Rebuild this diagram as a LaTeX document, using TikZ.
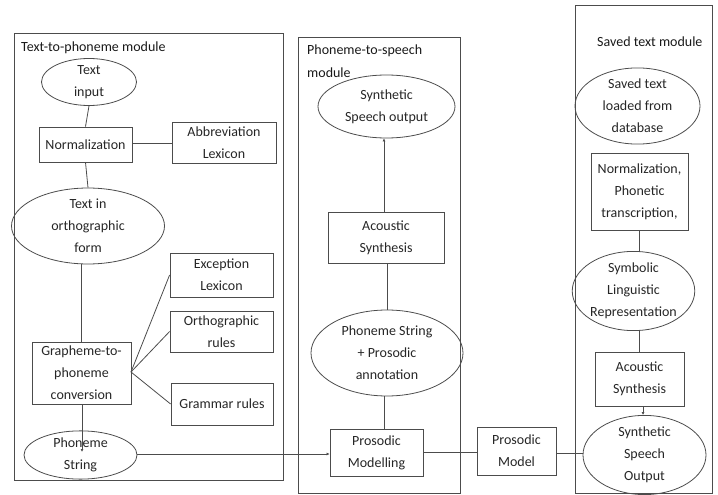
\documentclass[tikz,border=0pt]{standalone}
\usepackage{fontspec}
\setmainfont{Carlito}
\usetikzlibrary{shapes.geometric,arrows.meta}
\tikzset{
  lbl/.style={font=\fontsize{14}{22}\selectfont, text=black!85, align=center},
  boxnode/.style={lbl, draw=black!70, line width=0.8pt, inner sep=0pt},
  ellnode/.style={lbl, ellipse, draw=black!70, line width=0.8pt, inner sep=0pt},
  modbox/.style={draw=black!70, line width=0.8pt},
  conn/.style={draw=black!70, line width=0.8pt},
  arr/.style={conn, -{Latex[length=3pt,width=3pt]}},
  ttl/.style={font=\fontsize{14}{22}\selectfont, text=black!90, align=left, inner sep=0pt, anchor=west}
}
\begin{document}
\begin{tikzpicture}[x=1pt,y=-1pt]
\useasboundingbox (0,0) rectangle (718,495);
% module frames
\draw[modbox] (14,33) rectangle (283,480);
\draw[modbox] (298,37) rectangle (460,493);
\draw[modbox] (575,5) rectangle (712,493);
% titles
\node[ttl] (t1) at (21,48) {Text-to-phoneme module};
\node[ttl, align=left, font=\fontsize{14}{23}\selectfont] (t2) at (307,61) {Phoneme-to-speech\\module};
\node[ttl] (t3) at (597,42) {Saved text module};
% left module
\node[ellnode, minimum width=95, minimum height=40] (ti) at (89,82) {Text\\input};
\node[boxnode, minimum width=93, minimum height=35] (norm) at (85.5,144.5) {Normalization};
\node[boxnode, minimum width=104, minimum height=41] (abbr) at (224,142.5) {Abbreviation\\Lexicon};
\node[ellnode, minimum width=153, minimum height=65] (orth) at (88,226) {Text in\\orthographic\\form};
\node[boxnode, minimum width=103, minimum height=44] (exc) at (221.5,275) {Exception\\Lexicon};
\node[boxnode, minimum width=103, minimum height=41] (ortr) at (221.5,331.5) {Orthographic\\rules};
\node[boxnode, minimum width=102, minimum height=42] (gram) at (222,404) {Grammar rules};
\node[boxnode, minimum width=99, minimum height=62] (g2p) at (81.5,373) {Grapheme-to-\\phoneme\\conversion};
\node[ellnode, minimum width=113, minimum height=47] (ps) at (80.5,455) {Phoneme\\String};
\draw[conn] (ti.south) -- (norm.north);
\draw[conn] (norm.east |- 0,143) -- (abbr.west |- 0,143);
\draw[conn] (norm.south) -- (orth.north);
\draw[conn] (orth.south -| g2p.north) -- (g2p.north);
\coordinate (g2pe) at (131,372);
\draw[conn] (g2pe) -- (exc.west);
\draw[conn] (g2pe) -- (ortr.west);
\draw[conn] (g2pe) -- (gram.west);
\coordinate (psin) at (82,452);
\draw[arr] (g2p.south -| psin) -- (psin);
% middle module
\node[ellnode, minimum width=137, minimum height=63] (sso) at (386.5,106.5) {Synthetic\\Speech output};
\node[boxnode, minimum width=116, minimum height=51] (ac1) at (386,237.5) {Acoustic\\Synthesis};
\node[ellnode, minimum width=152, minimum height=86] (psp) at (387,353) {Phoneme String\\+ Prosodic\\annotation};
\node[boxnode, minimum width=93, minimum height=47] (pm) at (376.5,452.5) {Prosodic\\Modelling};
\node[boxnode, minimum width=79, minimum height=48] (pmod) at (516.5,451) {Prosodic\\Model};
\draw[arr] (ac1.north -| 384,0) -- (sso.south -| 384,0);
\draw[conn] (ac1.south -| 387,0) -- (psp.north -| 387,0);
\draw[conn] (psp.south -| 384,0) -- (pm.north -| 384,0);
\draw[arr] (ps.east |- 0,454) -- (pm.west |- 0,454);
\draw[conn] (pm.east |- 0,452) -- (pmod.west |- 0,452);
% right module
\node[ellnode, minimum width=125, minimum height=62] (sav) at (637.5,106) {Saved text\\loaded from\\database};
\node[boxnode, minimum width=97, minimum height=77] (nph) at (639.5,191.5) {Normalization,\\Phonetic\\transcription,};
\node[ellnode, minimum width=117, minimum height=78] (sym) at (633.5,291) {Symbolic\\Linguistic\\Representation};
\node[boxnode, minimum width=89, minimum height=54] (ac2) at (639.5,379) {Acoustic\\Synthesis};
\node[ellnode, minimum width=123, minimum height=60] (sso2) at (644.5,455) {Synthetic\\Speech\\Output};
\draw[conn] (nph.south -| 639,0) -- (sym.north -| 639,0);
\draw[conn] (sym.south -| 639,0) -- (ac2.north -| 639,0);
\draw[arr] (ac2.south -| 643,0) -- (sso2.north -| 643,0);
\draw[conn] (pmod.east |- 0,453) -- (sso2.west |- 0,453);
\end{tikzpicture}
\end{document}
